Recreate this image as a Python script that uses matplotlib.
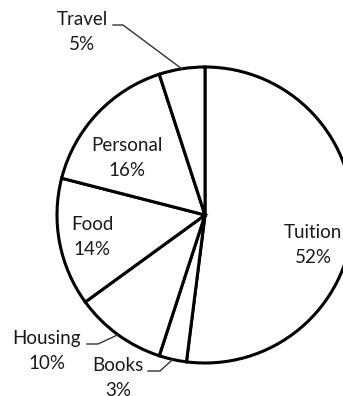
import numpy as np
import matplotlib
matplotlib.use("Agg")
import matplotlib.pyplot as plt

categories = ["Tuition", "Books", "Housing", "Food", "Personal", "Travel"]
shares = [52, 3, 10, 14, 16, 5]

W, H = 343, 396
fig = plt.figure(figsize=(W / 100, H / 100), dpi=100)
ax = fig.add_axes([0, 0, 1, 1])

cx, cy, r = 205, H - 215, 148
wedges, _ = ax.pie(shares, startangle=90, counterclock=False,
                   center=(cx, cy), radius=r,
                   colors=["white"] * len(shares),
                   wedgeprops=dict(edgecolor="black", linewidth=2.2))
ax.set_xlim(0, W)
ax.set_ylim(0, H)
ax.set_aspect("auto")
ax.axis("off")

font = dict(family=["Lato", "DejaVu Sans"], fontsize=13.5, color="#1a1a1a",
            ha="center", va="center", linespacing=1.55)

# label anchor positions (pixel-style, measured from top-left)
label_pos = {
    "Tuition": (313, 245),
    "Books": (118, 378),
    "Housing": (47, 351),
    "Food": (92, 237),
    "Personal": (127, 158),
    "Travel": (82, 32),
}
# leader lines: text-side start and elbow (pixel coords)
leaders = {
    "Travel": [(113, 25), (123, 25)],
    "Housing": [(87, 344), (98, 344)],
    "Books": [(148, 371), (160, 371)],
}

for w, name, val in zip(wedges, categories, shares):
    px, py = label_pos[name]
    ax.text(px, H - py, f"{name}\n{val}%", **font)
    if name in leaders:
        mid = np.deg2rad((w.theta1 + w.theta2) / 2)
        ex, ey = cx + r * np.cos(mid), cy + r * np.sin(mid)
        pts = leaders[name]
        xs = [p[0] for p in pts] + [ex]
        ys = [H - p[1] for p in pts] + [ey]
        ax.plot(xs, ys, color="#333333", linewidth=1.0)

fig.savefig("out.png", dpi=100, facecolor="white")
